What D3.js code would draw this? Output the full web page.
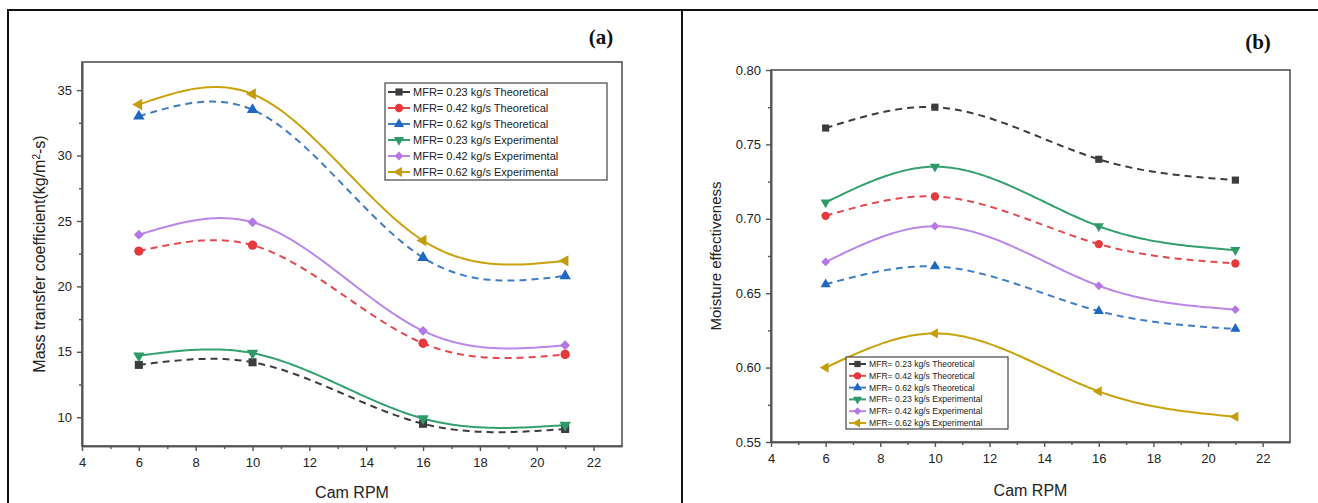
<!DOCTYPE html>
<html>
<head>
<meta charset="utf-8">
<script src="https://cdnjs.cloudflare.com/ajax/libs/d3/7.8.5/d3.min.js"></script>
<style>
  html, body { margin: 0; padding: 0; background: #fff; }
  svg { display: block; font-family: "Liberation Sans", Arial, sans-serif; }
</style>
</head>
<body>
<svg id="chart" width="1318" height="503"></svg>
<script>
// Cam speed (RPM) at which both quantities were evaluated
const rpm = [6, 10, 16, 21];

// Legend labels, one per series (same order in both panels)
const seriesLabels = [
  "MFR= 0.23 kg/s Theoretical",
  "MFR= 0.42 kg/s Theoretical",
  "MFR= 0.62 kg/s Theoretical",
  "MFR= 0.23 kg/s Experimental",
  "MFR= 0.42 kg/s Experimental",
  "MFR= 0.62 kg/s Experimental"
];

// (a) Mass transfer coefficient, kg/m²-s
const mtc023Theo = [14.0, 14.2, 9.5, 9.1];
const mtc042Theo = [22.7, 23.15, 15.65, 14.8];
const mtc062Theo = [33.0, 33.5, 22.2, 20.8];
const mtc023Exp  = [14.7, 14.9, 9.9, 9.4];
const mtc042Exp  = [23.95, 24.9, 16.6, 15.5];
const mtc062Exp  = [33.9, 34.7, 23.5, 21.95];

// (b) Moisture effectiveness
const eff023Theo = [0.761, 0.775, 0.740, 0.726];
const eff042Theo = [0.702, 0.715, 0.683, 0.670];
const eff062Theo = [0.656, 0.668, 0.638, 0.626];
const eff023Exp  = [0.711, 0.735, 0.695, 0.679];
const eff042Exp  = [0.671, 0.695, 0.655, 0.639];
const eff062Exp  = [0.600, 0.623, 0.584, 0.567];

// Tick labels
const rpmTicks = [4, 6, 8, 10, 12, 14, 16, 18, 20, 22];
const mtcTicks = [10, 15, 20, 25, 30, 35];
const effTicks = [0.55, 0.60, 0.65, 0.70, 0.75, 0.80];

// Series styling
const seriesStyle = [
  { stroke: "#3c3c3c", fill: "#3c3c3c", dash: "7,5", shape: "square" },
  { stroke: "#e5484d", fill: "#e5393e", dash: "7,5", shape: "circle" },
  { stroke: "#3f7cc4", fill: "#1f67c0", dash: "7,5", shape: "triangleUp" },
  { stroke: "#33a06f", fill: "#2f9a68", dash: null,  shape: "triangleDown" },
  { stroke: "#bb86e8", fill: "#b478e6", dash: null,  shape: "diamond" },
  { stroke: "#c9a20c", fill: "#c49c08", dash: null,  shape: "triangleLeft" }
];

// Natural cubic spline y(x) through the measured points, used only to
// draw the smooth connecting curve between markers.
function naturalSpline(xs, ys) {
  const n = xs.length;
  const h = d3.range(n - 1).map(i => xs[i + 1] - xs[i]);
  const M = new Array(n).fill(0);
  if (n > 2) {
    const m = n - 2;
    const a = [], b = [], c = [], r = [];
    for (let k = 0; k < m; k++) {
      const i = k + 1;
      a.push(h[i - 1]);
      b.push(2 * (h[i - 1] + h[i]));
      c.push(h[i]);
      r.push(6 * ((ys[i + 1] - ys[i]) / h[i] - (ys[i] - ys[i - 1]) / h[i - 1]));
    }
    for (let k = 1; k < m; k++) {
      const w = a[k] / b[k - 1];
      b[k] -= w * c[k - 1];
      r[k] -= w * r[k - 1];
    }
    const sol = new Array(m);
    sol[m - 1] = r[m - 1] / b[m - 1];
    for (let k = m - 2; k >= 0; k--) sol[k] = (r[k] - c[k] * sol[k + 1]) / b[k];
    for (let k = 0; k < m; k++) M[k + 1] = sol[k];
  }
  return x => {
    let i = 0;
    while (i < n - 2 && x > xs[i + 1]) i++;
    const t = x - xs[i], hi = h[i];
    const bCoef = (ys[i + 1] - ys[i]) / hi - hi * (2 * M[i] + M[i + 1]) / 6;
    return ys[i] + bCoef * t + (M[i] / 2) * t * t + ((M[i + 1] - M[i]) / (6 * hi)) * t * t * t;
  };
}

const svg = d3.select("#chart");
svg.append("rect").attr("width", 1318).attr("height", 503).attr("fill", "#fff");

// Outer panel boxes
const boxes = svg.append("g").attr("stroke", "#111").attr("stroke-width", 2).attr("fill", "none");
boxes.append("path").attr("d", "M8,503 V10 H1318");
boxes.append("path").attr("d", "M682,10 V503");

function markerPath(shape, size) {
  const a = size * size;
  switch (shape) {
    case "square": return d3.symbol(d3.symbolSquare, a * 0.8)();
    case "circle": return d3.symbol(d3.symbolCircle, a * 0.85)();
    case "diamond": return d3.symbol(d3.symbolSquare, a * 0.6)();
    default: return d3.symbol(d3.symbolTriangle, a * 0.7)();
  }
}
function markerRotate(shape) {
  if (shape === "triangleDown") return 180;
  if (shape === "triangleLeft") return -90;
  if (shape === "diamond") return 45;
  return 0;
}

function drawPanel(cfg) {
  const g = svg.append("g");
  const x = d3.scaleLinear().domain(cfg.xDomain).range([cfg.left, cfg.right]);
  const y = d3.scaleLinear().domain(cfg.yDomain).range([cfg.bottom, cfg.top]);

  // plot frame
  g.append("rect")
    .attr("x", cfg.left).attr("y", cfg.top)
    .attr("width", cfg.right - cfg.left).attr("height", cfg.bottom - cfg.top)
    .attr("fill", "none").attr("stroke", "#555").attr("stroke-width", 1.6);

  // minor ticks
  const xMinor = d3.range(5, 23, 2);
  const yStep = cfg.yTicks[1] - cfg.yTicks[0];
  const yMinor = cfg.yTicks.slice(0, -1).map((v, i) => (v + cfg.yTicks[i + 1]) / 2)
    .concat([cfg.yTicks[0] - yStep / 2, cfg.yTicks[cfg.yTicks.length - 1] + yStep / 2])
    .filter(v => v >= cfg.yDomain[0] && v <= cfg.yDomain[1]);

  const styleAxis = sel => {
    sel.select(".domain").attr("stroke", "#555").attr("stroke-width", 1.6);
    sel.selectAll(".tick line").attr("stroke", "#555").attr("stroke-width", 1.4);
    sel.selectAll(".tick text").attr("fill", "#222").style("font-size", "13px")
      .style("font-family", "'Liberation Sans', Arial, sans-serif");
  };

  g.append("g").attr("transform", `translate(0,${cfg.bottom})`)
    .call(d3.axisBottom(x).tickValues(xMinor).tickSize(3).tickSizeOuter(0).tickFormat(""))
    .call(styleAxis);
  g.append("g").attr("transform", `translate(${cfg.left},0)`)
    .call(d3.axisLeft(y).tickValues(yMinor).tickSize(3).tickSizeOuter(0).tickFormat(""))
    .call(styleAxis);

  g.append("g").attr("transform", `translate(0,${cfg.bottom})`)
    .call(d3.axisBottom(x).tickValues(rpmTicks).tickSize(5).tickSizeOuter(0).tickPadding(7))
    .call(styleAxis);
  g.append("g").attr("transform", `translate(${cfg.left},0)`)
    .call(d3.axisLeft(y).tickValues(cfg.yTicks).tickSize(5).tickSizeOuter(0)
      .tickPadding(5).tickFormat(cfg.yFormat))
    .call(styleAxis);

  // axis titles
  g.append("text")
    .attr("x", (cfg.left + cfg.right) / 2).attr("y", cfg.xTitleY)
    .attr("text-anchor", "middle").attr("fill", "#222")
    .style("font-size", "16px").text("Cam RPM");

  const yt = g.append("text")
    .attr("transform", `translate(${cfg.yTitleX},${(cfg.top + cfg.bottom) / 2}) rotate(-90)`)
    .attr("text-anchor", "middle").attr("fill", "#222")
    .style("font-size", cfg.yTitleSize + "px");
  cfg.yTitle(yt);

  // panel tag
  g.append("text")
    .attr("x", cfg.tagX).attr("y", cfg.tagY)
    .attr("text-anchor", "middle").attr("fill", "#111")
    .style("font-family", "'Liberation Serif', 'Times New Roman', serif")
    .style("font-weight", "bold").style("font-size", "21px")
    .text(cfg.tag);

  // smooth series curves
  const line = d3.line().x(d => x(d[0])).y(d => y(d[1]));
  cfg.series.forEach((vals, i) => {
    const st = seriesStyle[i];
    const f = naturalSpline(rpm, vals);
    const xs = d3.range(rpm[0], rpm[rpm.length - 1], 0.1).concat([rpm[rpm.length - 1]]);
    g.append("path").attr("d", line(xs.map(v => [v, f(v)])))
      .attr("fill", "none").attr("stroke", st.stroke).attr("stroke-width", 2)
      .attr("stroke-dasharray", st.dash);
  });
  // markers at the measured values
  cfg.series.forEach((vals, i) => {
    const st = seriesStyle[i];
    g.selectAll(null).data(rpm.map((r, k) => [r, vals[k]])).join("path")
      .attr("d", markerPath(st.shape, cfg.markerSize))
      .attr("transform", d => `translate(${x(d[0])},${y(d[1])}) rotate(${markerRotate(st.shape)})`)
      .attr("fill", st.fill);
  });

  // legend
  const L = cfg.legend;
  const lg = g.append("g");
  lg.append("rect").attr("x", L.x).attr("y", L.y).attr("width", L.w).attr("height", L.h)
    .attr("fill", "#fff").attr("stroke", "#444").attr("stroke-width", 1.2);
  seriesLabels.forEach((lab, i) => {
    const st = seriesStyle[i];
    const cy = L.y + L.first + i * L.step;
    lg.append("line").attr("x1", L.x + 3).attr("x2", L.x + 3 + L.sample)
      .attr("y1", cy).attr("y2", cy).attr("stroke", st.stroke).attr("stroke-width", 2);
    lg.append("path").attr("d", markerPath(st.shape, L.marker))
      .attr("transform", `translate(${L.x + 3 + L.sample / 2},${cy}) rotate(${markerRotate(st.shape)})`)
      .attr("fill", st.fill);
    lg.append("text").attr("x", L.x + 3 + L.sample + 3).attr("y", cy)
      .attr("dy", "0.35em").attr("fill", "#222")
      .style("font-size", L.font + "px").text(lab);
  });
}

drawPanel({
  left: 82, right: 622, top: 62, bottom: 446,
  xDomain: [4, 23], yDomain: [7.8, 37.15],
  yTicks: mtcTicks, yFormat: d3.format("d"),
  series: [mtc023Theo, mtc042Theo, mtc062Theo, mtc023Exp, mtc042Exp, mtc062Exp],
  xTitleY: 498, yTitleX: 45, yTitleSize: 16,
  yTitle: t => {
    t.append("tspan").text("Mass transfer coefficient(kg/m");
    t.append("tspan").attr("baseline-shift", "super").style("font-size", "10px").text("2");
    t.append("tspan").text("-s)");
  },
  tag: "(a)", tagX: 601, tagY: 44,
  markerSize: 9,
  legend: { x: 385, y: 83, w: 222, h: 97, first: 9, step: 16, sample: 22, marker: 8, font: 11 }
});

drawPanel({
  left: 771, right: 1290, top: 70, bottom: 442,
  xDomain: [4, 23], yDomain: [0.55, 0.80],
  yTicks: effTicks, yFormat: d3.format(".2f"),
  series: [eff023Theo, eff042Theo, eff062Theo, eff023Exp, eff042Exp, eff062Exp],
  xTitleY: 496, yTitleX: 721, yTitleSize: 15,
  yTitle: t => t.text("Moisture effectiveness"),
  tag: "(b)", tagX: 1258, tagY: 49,
  markerSize: 8,
  legend: { x: 846, y: 357, w: 162, h: 72, first: 7, step: 11.8, sample: 17, marker: 7, font: 8.6 }
});
</script>
</body>
</html>
